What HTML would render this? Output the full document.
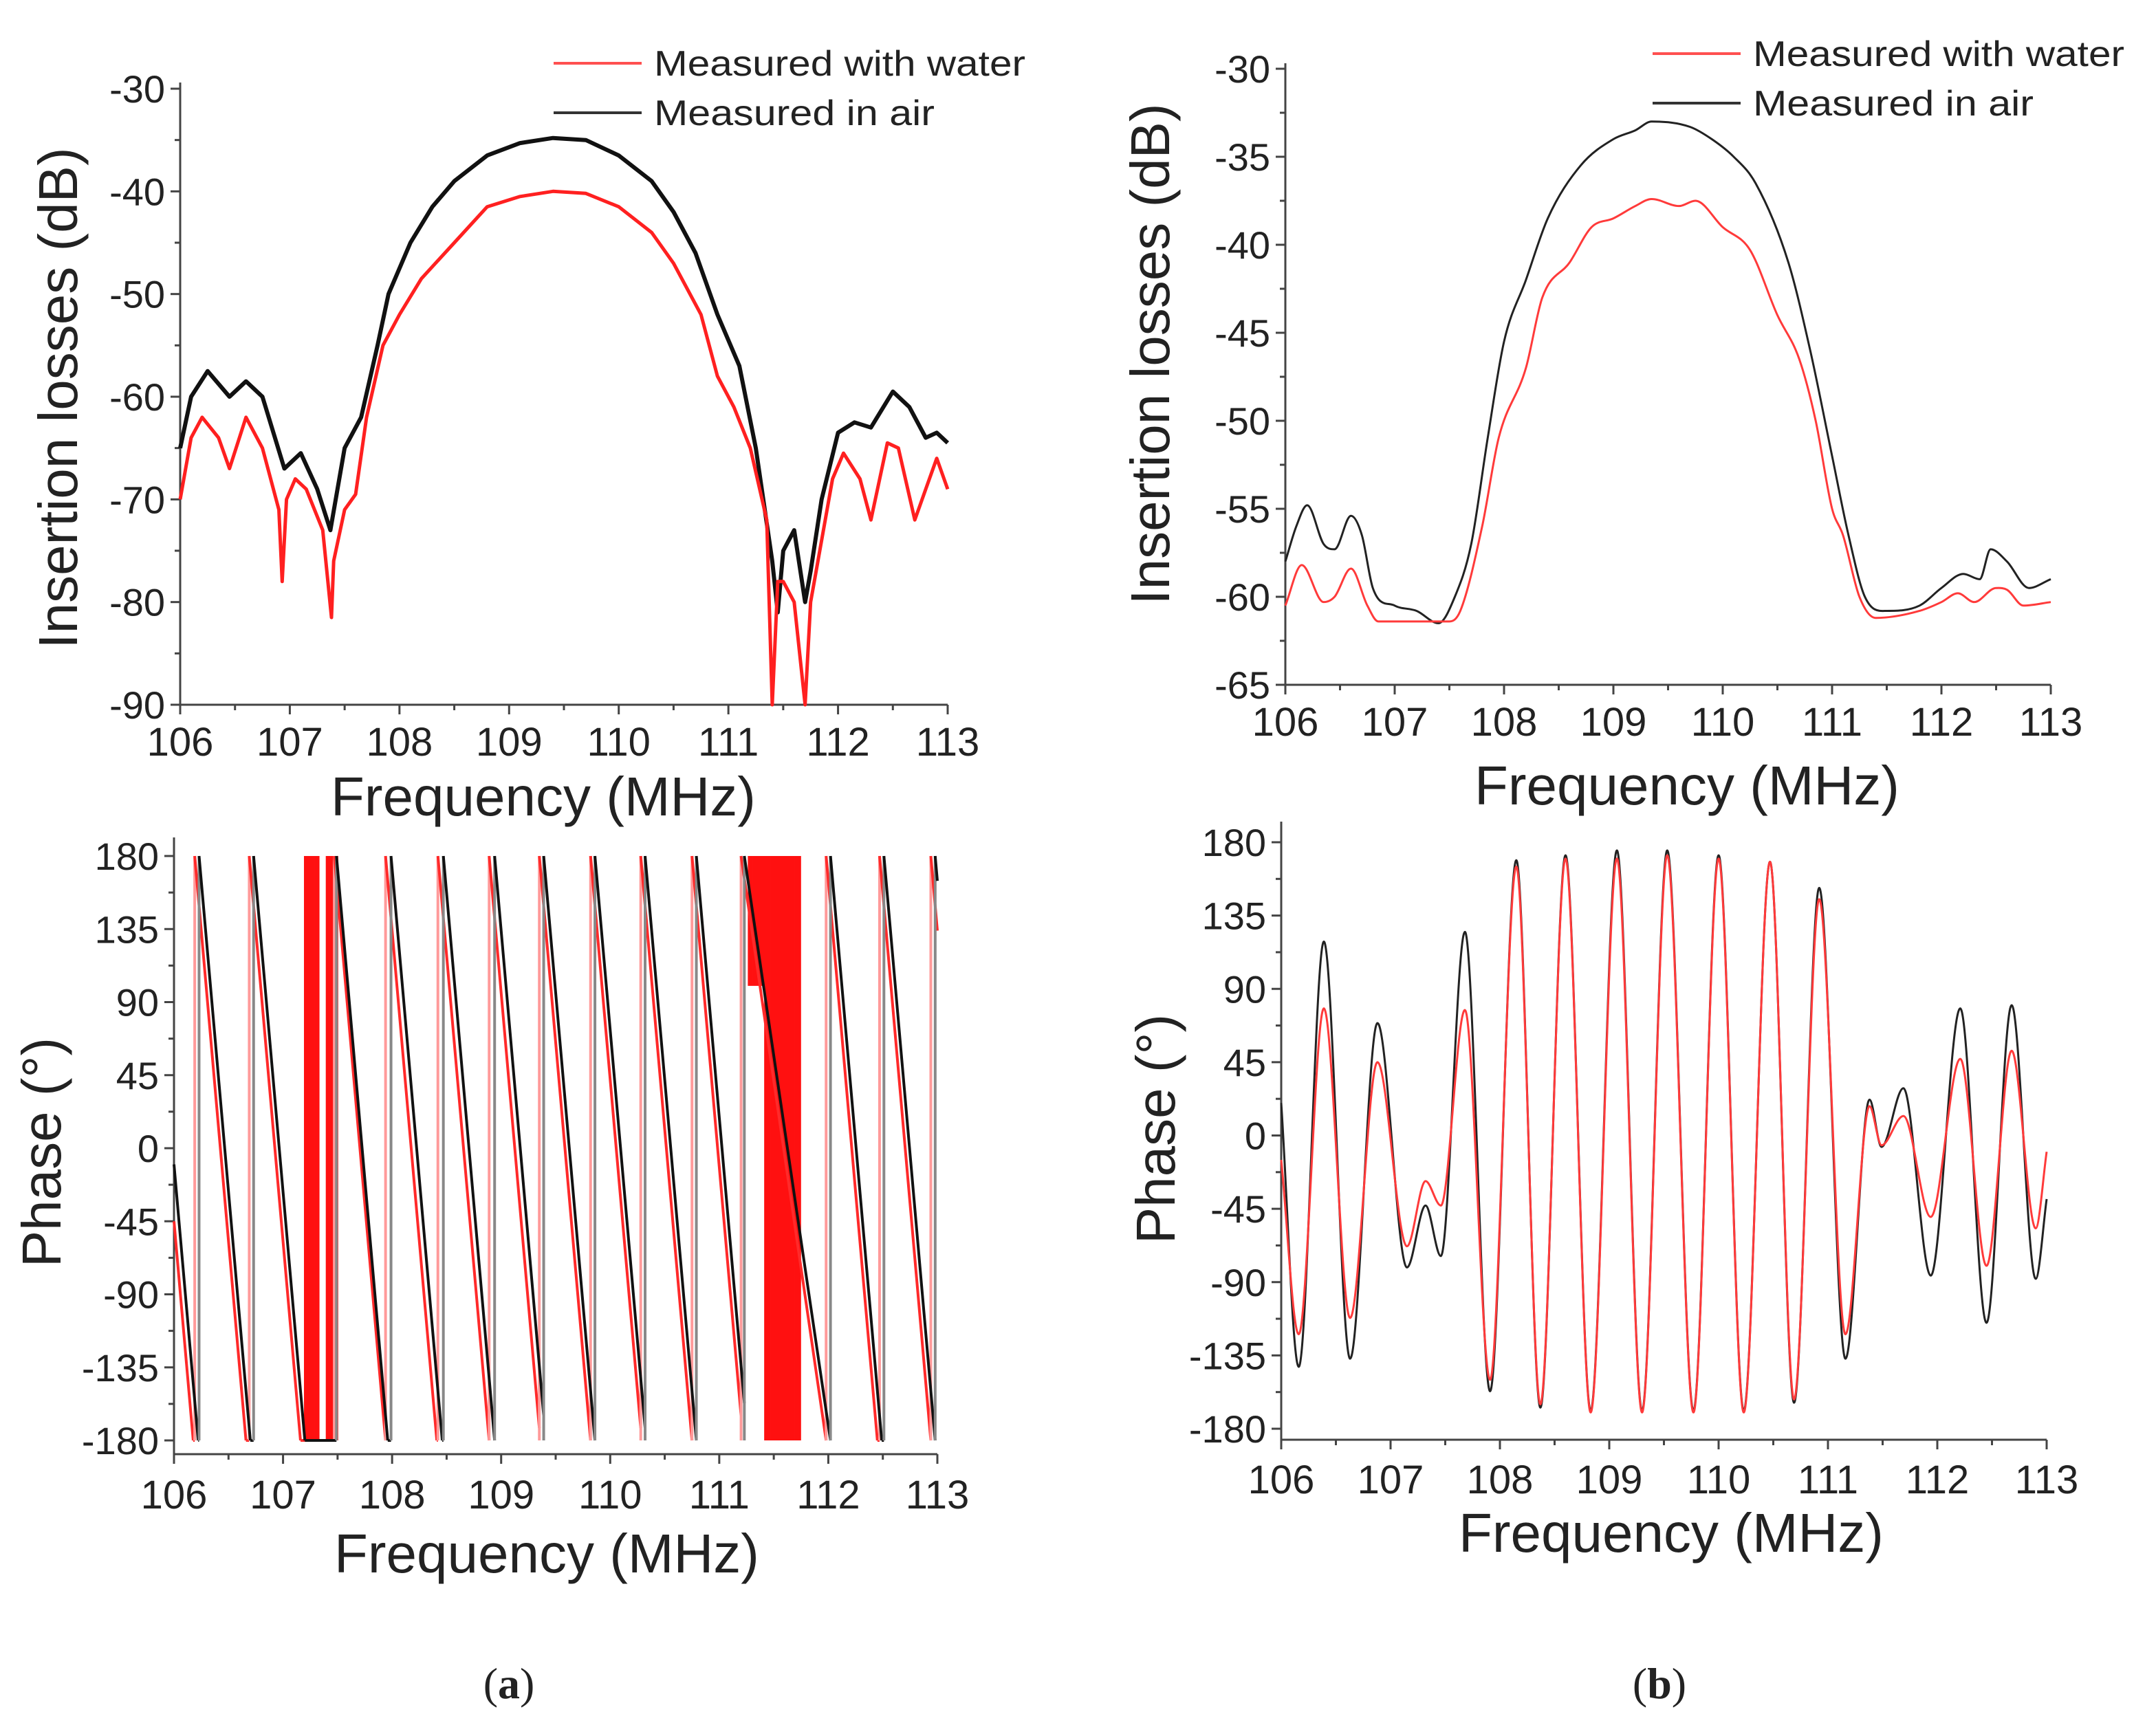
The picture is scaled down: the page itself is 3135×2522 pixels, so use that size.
<!DOCTYPE html>
<html><head><meta charset="utf-8"><style>
html,body{margin:0;padding:0;background:#fff;}
svg{display:block;}
text{font-family:"Liberation Sans",Arial,sans-serif;fill:#222;}
</style></head><body>
<svg id="fig" width="3135" height="2522" viewBox="0 0 3135 2522" xmlns="http://www.w3.org/2000/svg"></svg>
<script>
// ---- Panel a top: insertion losses ----
const aTopAirX = [106.0,106.1,106.25,106.45,106.6,106.75,106.95,107.1,107.25,107.37,107.5,107.65,107.8,107.9,108.1,108.3,108.5,108.8,109.1,109.4,109.7,110.0,110.3,110.5,110.7,110.9,111.1,111.25,111.4,111.45,111.5,111.6,111.7,111.75,111.85,112.0,112.15,112.3,112.5,112.65,112.8,112.9,113.0];
const aTopAirY = [-65,-60,-57.5,-60,-58.5,-60,-67,-65.5,-69,-73,-65,-62,-55,-50,-45,-41.5,-39,-36.5,-35.3,-34.8,-35,-36.5,-39,-42,-46,-52,-57,-65,-76,-81,-75,-73,-80,-77,-70,-63.5,-62.5,-63,-59.5,-61,-64,-63.5,-64.5];
const aTopWaterX = [106.0,106.1,106.2,106.35,106.45,106.6,106.75,106.9,106.93,106.97,107.05,107.15,107.3,107.38,107.4,107.5,107.6,107.7,107.85,108.0,108.2,108.5,108.8,109.1,109.4,109.7,110.0,110.3,110.5,110.75,110.9,111.05,111.2,111.35,111.4,111.45,111.5,111.6,111.7,111.75,111.8,111.95,112.05,112.2,112.3,112.45,112.55,112.7,112.8,112.9,113.0];
const aTopWaterY = [-70,-64,-62,-64,-67,-62,-65,-71,-78,-70,-68,-69,-73,-81.5,-76,-71,-69.5,-62,-55,-52,-48.5,-45,-41.5,-40.5,-40,-40.2,-41.5,-44,-47,-52,-58,-61,-65,-72,-90,-78,-78,-80,-90,-80,-77,-68,-65.5,-68,-72,-64.5,-65,-72,-69,-66,-69];
// ---- Panel b top ----
const bTopAirX = [106.0,106.1,106.2,106.35,106.45,106.6,106.7,106.8,107.0,107.2,107.4,107.55,107.7,107.85,108.0,108.2,108.4,108.7,109.0,109.2,109.35,109.7,109.9,110.1,110.3,110.6,110.8,111.0,111.15,111.3,111.5,111.8,112.0,112.2,112.35,112.45,112.6,112.8,113.0];
const bTopAirY = [-58,-56,-54.8,-57,-57.3,-55.4,-56.5,-59.5,-60.5,-60.8,-61.5,-60,-57,-51,-45.5,-42,-38.5,-35.5,-34,-33.5,-33,-33.3,-34,-35,-36.5,-41,-46,-52,-56.5,-60,-60.8,-60.5,-59.5,-58.7,-59,-57.3,-58,-59.5,-59];
const bTopWaterX = [106.0,106.15,106.35,106.45,106.6,106.75,106.85,107.5,107.6,107.8,107.95,108.2,108.35,108.6,108.8,109.0,109.2,109.35,109.6,109.75,110.0,110.25,110.5,110.7,110.85,111.0,111.1,111.25,111.4,111.8,112.0,112.15,112.3,112.5,112.6,112.75,113.0];
const bTopWaterY = [-60.5,-58.2,-60.3,-60,-58.4,-60.5,-61.4,-61.4,-60.8,-56,-51,-47,-43,-41,-39,-38.5,-37.8,-37.4,-37.8,-37.5,-39,-40.3,-44,-46.5,-50,-55,-56.5,-60,-61.2,-60.8,-60.3,-59.8,-60.3,-59.5,-59.6,-60.5,-60.3];
// ---- Panel a bottom: wrapped phase ----
const aPhSlope = 766; // degrees per MHz
const aPhAirStart = -10;
const aPhAirWraps = [106.23,106.73,107.49,107.99,108.47,108.94,109.39,109.86,110.32,110.79,111.23,112.02,112.51,112.98];
const aPhWaterStart = -45;
const aPhWaterWraps = [106.19,106.69,107.47,107.94,108.42,108.89,109.35,109.82,110.28,110.75,111.2,111.98,112.47,112.94];
const aPhSlowSegStart = [111.23,111.2]; // segments that descend across the whole interval
const aNoiseBands = [[107.2,107.33,-180,180],[107.4,107.5,-180,180],[111.42,111.75,-180,180],[111.27,111.42,100,180]];
// ---- Panel b bottom: phase ----
const bPhX = [106.0,106.16,106.39,106.63,106.88,107.15,107.32,107.46,107.68,107.91,108.15,108.37,108.6,108.83,109.07,109.3,109.53,109.77,110.0,110.23,110.47,110.69,110.92,111.16,111.38,111.49,111.69,111.94,112.21,112.45,112.68,112.9,113.0];
const bPhAir = [20,-142,119,-137,69,-81,-43,-74,125,-157,169,-167,172,-169,175,-169,175,-169,172,-169,168,-164,152,-137,22,-7,29,-86,78,-115,80,-88,-39];
const bPhWater = [-15,-122,78,-112,45,-68,-28,-43,77,-150,165,-165,170,-170,170,-170,172,-170,170,-170,168,-162,145,-122,18,-6,12,-50,47,-80,52,-57,-10];

const xTicks = [106,107,108,109,110,111,112,113];
const aTopYTicks = [-30,-40,-50,-60,-70,-80,-90];
const bTopYTicks = [-30,-35,-40,-45,-50,-55,-60,-65];
const phTicks = [180,135,90,45,0,-45,-90,-135,-180];

const NS = "http://www.w3.org/2000/svg";
const svg = document.getElementById('fig');
function el(tag, attrs, parent){const e=document.createElementNS(NS,tag);for(const k in attrs)e.setAttribute(k,attrs[k]);(parent||svg).appendChild(e);return e;}
function scale(d0,d1,r0,r1){return v=>r0+(v-d0)/(d1-d0)*(r1-r0);}

function axes(p){
  const g=el('g',{});
  
  
  const c='#444';
  el('line',{x1:p.x0,y1:p.axTop,x2:p.x0,y2:p.axBot,stroke:c,'stroke-width':3},g);
  el('line',{x1:p.x0,y1:p.axBot,x2:p.x1,y2:p.axBot,stroke:c,'stroke-width':3},g);
  xTicks.forEach((t,i)=>{
    const x=p.sx(t);
    el('line',{x1:x,y1:p.axBot,x2:x,y2:p.axBot+14,stroke:c,'stroke-width':3},g);
    if(i<xTicks.length-1){const xm=p.sx(t+0.5);el('line',{x1:xm,y1:p.axBot,x2:xm,y2:p.axBot+8,stroke:c,'stroke-width':3},g);}
    const tx=el('text',{x:x,y:p.xLabY,'font-size':58,'text-anchor':'middle'},g);
    tx.textContent=t;
    
    
  });
  p.yTicks.forEach((t,i)=>{
    const y=p.sy(t);
    el('line',{x1:p.x0-14,y1:y,x2:p.x0,y2:y,stroke:c,'stroke-width':3},g);
    if(i<p.yTicks.length-1){const ym=p.sy((t+p.yTicks[i+1])/2);el('line',{x1:p.x0-8,y1:ym,x2:p.x0,y2:ym,stroke:c,'stroke-width':3},g);}
    const tx=el('text',{x:p.x0-22,y:y+20,'font-size':56,'text-anchor':'end'},g);
    tx.textContent=t;
    
    
  });
  const xt=el('text',{x:p.xTitleX,y:p.xTitleY,'font-size':80,'text-anchor':'middle'},g);
  xt.textContent='Frequency (MHz)';
  
  
  const yt=el('text',{x:0,y:0,'font-size':80,'text-anchor':'middle',transform:`translate(${p.yTitleX},${p.yTitleY}) rotate(-90)`},g);
  yt.textContent=p.yTitle;
  
  
}
function poly(p,xs,ys,color,w,name){
  const pts=xs.map((x,i)=>p.sx(x).toFixed(1)+','+Math.min(p.axBot,p.sy(ys[i])).toFixed(1)).join(' ');
  const e=el('polyline',{points:pts,fill:'none',stroke:color,'stroke-width':w,'stroke-linejoin':'round'});
  
  
}
function smooth(p,xs,ys,color,w,name){
  const n=xs.length,d=[],m=[];
  for(let i=0;i<n-1;i++)d.push((ys[i+1]-ys[i])/(xs[i+1]-xs[i]));
  m[0]=d[0];m[n-1]=d[n-2];
  for(let i=1;i<n-1;i++)m[i]=(d[i-1]*d[i]<=0)?0:(d[i-1]+d[i])/2;
  let s='M'+p.sx(xs[0])+','+p.sy(ys[0]);
  for(let i=0;i<n-1;i++){const h=xs[i+1]-xs[i];
    s+=` C${p.sx(xs[i]+h/3)},${p.sy(ys[i]+m[i]*h/3)} ${p.sx(xs[i+1]-h/3)},${p.sy(ys[i+1]-m[i+1]*h/3)} ${p.sx(xs[i+1])},${p.sy(ys[i+1])}`;}
  const e=el('path',{d:s,fill:'none',stroke:color,'stroke-width':w});
  
  
}
function legend(lx,ty,name){
  const g=el('g',{});
  
  
  el('line',{x1:lx,y1:ty,x2:lx+128,y2:ty,stroke:'#ff5050','stroke-width':4},g);
  const t1=el('text',{x:lx+146,y:ty+18,'font-size':52,textLength:540,lengthAdjust:'spacingAndGlyphs'},g);t1.textContent='Measured with water';
  el('line',{x1:lx,y1:ty+72,x2:lx+128,y2:ty+72,stroke:'#333','stroke-width':4},g);
  const t2=el('text',{x:lx+146,y:ty+90,'font-size':52,textLength:408,lengthAdjust:'spacingAndGlyphs'},g);t2.textContent='Measured in air';
}
function base(o){o.sx=scale(106,113,o.x0,o.x1);o.sy=scale(o.yMin,o.yMax,o.yB,o.yT);return o;}

// Panel a top
const pA=base({name:'panel-a-insertion',x0:262,x1:1378,yMin:-90,yMax:-30,yB:1025,yT:129,axTop:120,axBot:1025,yTicks:aTopYTicks,xLabY:1099,xTitleX:790,xTitleY:1186,yTitleX:112,yTitleY:579,yTitle:'Insertion losses (dB)'});
axes(pA);
poly(pA,aTopAirX,aTopAirY,'#111',6,'air-insertion-line-a');
poly(pA,aTopWaterX,aTopWaterY,'#ff2020',5,'water-insertion-line-a');
legend(805,92,'legend-a');

// Panel b top
const pB=base({name:'panel-b-insertion',x0:1869,x1:2982,yMin:-65,yMax:-30,yB:996,yT:100,axTop:92,axBot:996,yTicks:bTopYTicks,xLabY:1070,xTitleX:2453,xTitleY:1170,yTitleX:1700,yTitleY:515,yTitle:'Insertion losses (dB)'});
axes(pB);
smooth(pB,bTopAirX,bTopAirY,'#222',3,'air-insertion-line-b');
smooth(pB,bTopWaterX,bTopWaterY,'#ff3a3a',3,'water-insertion-line-b');
legend(2403,78,'legend-b');

// Panel a bottom
const pC=base({name:'panel-a-phase',x0:253,x1:1363,yMin:-180,yMax:180,yB:2095,yT:1245,axTop:1218,axBot:2115,yTicks:phTicks,xLabY:2194,xTitleX:795,xTitleY:2287,yTitleX:88,yTitleY:1676,yTitle:'Phase (°)'});
axes(pC);
aNoiseBands.forEach(b=>{
  for(let f=b[0];f<=b[1];f+=0.014){
    const l=el('line',{x1:pC.sx(f),y1:pC.sy(b[3]),x2:pC.sx(f),y2:pC.sy(b[2]),stroke:'#ff1010','stroke-width':2.6});
    
    
  }
});
function sawtooth(p,start,wraps,cDesc,cJump,name){
  const g=el('g',{});
  
  
  const edges=[106].concat(wraps).concat([113]);
  for(let i=0;i<edges.length-1;i++){
    const a=edges[i],b=edges[i+1];
    const v0=i===0?start:180;
    const slow=aPhSlowSegStart.some(s=>Math.abs(s-a)<1e-6);
    const fHit=slow?b:a+(v0+180)/aPhSlope;
    if(fHit<=b){
      el('line',{x1:p.sx(a),y1:p.sy(v0),x2:p.sx(fHit),y2:p.sy(-180),stroke:cDesc,'stroke-width':4},g);
      if(fHit<b)el('line',{x1:p.sx(fHit),y1:p.sy(-180),x2:p.sx(b),y2:p.sy(-180),stroke:cDesc,'stroke-width':4},g);
    } else {
      el('line',{x1:p.sx(a),y1:p.sy(v0),x2:p.sx(b),y2:p.sy(v0-aPhSlope*(b-a)),stroke:cDesc,'stroke-width':4},g);
    }
    if(i<edges.length-2)el('line',{x1:p.sx(b),y1:p.sy(-180),x2:p.sx(b),y2:p.sy(180),stroke:cJump,'stroke-width':4},g);
  }
}
sawtooth(pC,aPhWaterStart,aPhWaterWraps,'#ff2a2a','#ff9a9a','water-phase-line-a');
sawtooth(pC,aPhAirStart,aPhAirWraps,'#111','#888','air-phase-line-a');

// Panel b bottom
const pD=base({name:'panel-b-phase',x0:1863,x1:2976,yMin:-180,yMax:180,yB:2078,yT:1225,axTop:1195,axBot:2094,yTicks:phTicks,xLabY:2172,xTitleX:2430,xTitleY:2257,yTitleX:1708,yTitleY:1642,yTitle:'Phase (°)'});
axes(pD);
smooth(pD,bPhX,bPhAir,'#222',3,'air-phase-line-b');
smooth(pD,bPhX,bPhWater,'#ff3a3a',3,'water-phase-line-b');

// sub-figure labels
[['a',740,'panel-a-label'],['b',2413,'panel-b-label']].forEach(([t,x,n])=>{
  const e=el('text',{x:x,y:2470,'font-size':64,'text-anchor':'middle',style:'font-family:"Liberation Serif",serif'});
  e.innerHTML='(<tspan font-weight="bold">'+t+'</tspan>)';
  
  
});
</script>
</body></html>
